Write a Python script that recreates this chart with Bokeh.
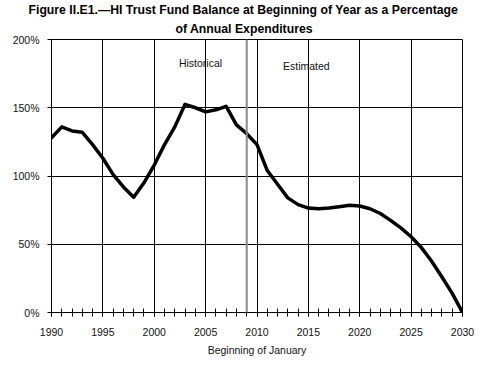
from bokeh.plotting import figure
from bokeh.models import Label, Span, Range1d, FixedTicker, PrintfTickFormatter, Title
from bokeh.embed import file_html
from bokeh.resources import INLINE

years = list(range(1990, 2031))
ratio = [128, 136, 133, 132, 123, 113, 101, 92, 84.5, 95,
         108, 123, 136, 152.5, 150, 147, 148.5, 151, 137.5, 131,
         123, 104, 94, 84, 79, 76.5, 76, 76.5, 77.5, 78.5,
         78, 76, 72.5, 67.5, 62, 55.5, 47.5, 37.5, 26, 14, 0]
x_ticks = [1990, 1995, 2000, 2005, 2010, 2015, 2020, 2025, 2030]
y_ticks = [0, 50, 100, 150, 200]
split_year = 2009
title_lines = ["Figure II.E1.\u2014HI Trust Fund Balance at Beginning of Year as a Percentage",
               "of Annual Expenditures"]

FONT = "Liberation Sans"

p = figure(width=477, height=358, output_backend="svg", toolbar_location=None,
           x_range=Range1d(1990, 2030), y_range=Range1d(0, 200),
           min_border_left=51, min_border_right=15, min_border_top=0, min_border_bottom=46)
p.background_fill_color = "white"
p.border_fill_color = "white"
p.outline_line_color = "black"

t2 = Title(text=title_lines[1], align="left", text_font=FONT, text_font_size="12.25px",
           text_font_style="bold", text_color="black", standoff=7, offset=124)
t1 = Title(text=title_lines[0], align="left", text_font=FONT, text_font_size="12.25px",
           text_font_style="bold", text_color="black", standoff=0, offset=-23)
p.add_layout(t2, "above")
p.add_layout(t1, "above")

p.xgrid.ticker = FixedTicker(ticks=x_ticks)
p.ygrid.ticker = FixedTicker(ticks=y_ticks)
for g in (p.xgrid, p.ygrid):
    g.grid_line_color = "black"
    g.grid_line_width = 1

xa = p.xaxis[0]
xa.ticker = FixedTicker(ticks=x_ticks, minor_ticks=years)
xa.axis_line_color = "black"
xa.major_tick_in = 4
xa.major_tick_out = 4
xa.minor_tick_in = 4
xa.minor_tick_out = 4
xa.major_tick_line_color = "black"
xa.minor_tick_line_color = "black"
xa.major_label_standoff = 11
xa.major_label_text_font = FONT
xa.major_label_text_font_size = "10.5px"
xa.major_label_text_color = "#111111"
xa.axis_label = "Beginning of January"
xa.axis_label_text_font = FONT
xa.axis_label_text_font_size = "10.5px"
xa.axis_label_text_font_style = "normal"
xa.axis_label_text_color = "#111111"
xa.axis_label_standoff = 5

ya = p.yaxis[0]
ya.ticker = FixedTicker(ticks=y_ticks)
ya.formatter = PrintfTickFormatter(format="%d%%")
ya.axis_line_color = "black"
ya.major_tick_in = 0
ya.major_tick_out = 4
ya.minor_tick_line_color = None
ya.major_label_standoff = 8
ya.major_label_text_font = FONT
ya.major_label_text_font_size = "10.5px"
ya.major_label_text_color = "#111111"

p.add_layout(Span(location=split_year, dimension="height", line_color="#8a8a8a", line_width=2))

p.line(years, ratio, line_color="black", line_width=3.5, line_join="round", line_cap="round")

p.add_layout(Label(x=2004.5, y=182.5, text="Historical", text_font=FONT, text_font_size="10.5px",
                   text_align="center", text_baseline="middle", text_color="#111111"))
p.add_layout(Label(x=2014.8, y=180.5, text="Estimated", text_font=FONT, text_font_size="10.5px",
                   text_align="center", text_baseline="middle", text_color="#111111"))

open("out.html", "w").write(file_html(p, INLINE))
